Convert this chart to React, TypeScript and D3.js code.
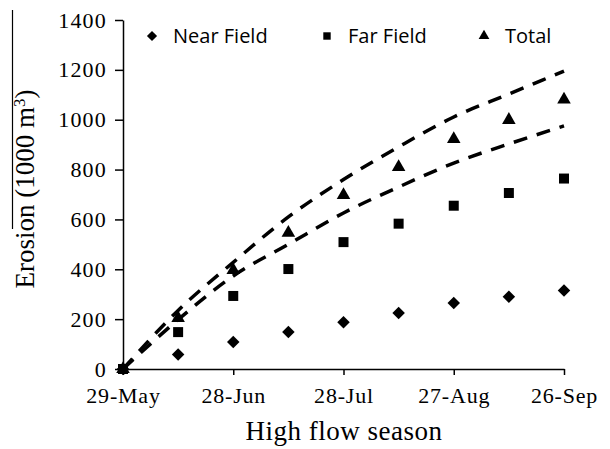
import * as d3 from 'd3'
import { useRef, useEffect } from 'react'

const dates = ['29-May', '13-Jun', '28-Jun', '13-Jul', '28-Jul', '12-Aug', '27-Aug', '11-Sep', '26-Sep']
const nearField = [0, 58, 108, 148, 188, 225, 265, 290, 315]
const farField = [0, 148, 293, 401, 509, 583, 655, 706, 764]
const total = [0, 204, 397, 546, 698, 810, 922, 999, 1081]
const upperLine = [0, 235, 428, 610, 760, 891, 1011, 1103, 1195]
const lowerLine = [0, 198, 373, 500, 626, 730, 826, 903, 975]
const xTicks = ['29-May', '28-Jun', '28-Jul', '27-Aug', '26-Sep']
const yTicks = [0, 200, 400, 600, 800, 1000, 1200, 1400]

const parse = d3.timeParse('%d-%b-%Y')
const toDate = (s: string) => parse(s + '-2013') as Date

const ErosionChart = () => {
  const ref = useRef<SVGSVGElement>(null)

  useEffect(() => {
    drawChart()
  }, [])

  const drawChart = () => {
    const svg = d3.select(ref.current)
    svg.selectAll('*').remove()

    const left = 123
    const right = 564
    const top = 20
    const bottom = 369

    const x = d3.scaleTime().domain([toDate('29-May'), toDate('26-Sep')]).range([left, right])
    const y = d3.scaleLinear().domain([0, 1400]).range([bottom, top])

    // stray edge line from the cropped source image
    svg.append('line')
      .attr('x1', 12.5).attr('x2', 12.5).attr('y1', 10).attr('y2', 229)
      .attr('stroke', '#000').attr('stroke-width', 1.2)

    // y axis
    const yAxis = svg.append('g')
      .attr('transform', 'translate(' + left + ',0)')
      .call(d3.axisLeft(y).tickValues(yTicks).tickFormat(d3.format('d')).tickSize(8).tickSizeOuter(0).tickPadding(8))
    yAxis.select('.domain').attr('stroke', '#000').attr('stroke-width', 1.5)
    yAxis.selectAll('.tick line').attr('stroke', '#000').attr('stroke-width', 1.5)
    yAxis.selectAll('.tick text')
      .attr('font-family', '"Liberation Serif", "Times New Roman", serif')
      .attr('font-size', 22)
      .attr('letter-spacing', 1.2)
      .attr('fill', '#000')

    // x axis
    const xAxis = svg.append('g')
      .attr('transform', 'translate(0,' + bottom + ')')
      .call(
        d3.axisBottom(x)
          .tickValues(xTicks.map(toDate))
          .tickFormat((d: any) => d3.timeFormat('%d-%b')(d))
          .tickSize(6)
          .tickSizeOuter(0)
          .tickPadding(12)
      )
    xAxis.select('.domain').attr('stroke', '#000').attr('stroke-width', 1.5)
    xAxis.selectAll('.tick line').attr('stroke', '#000').attr('stroke-width', 1.5)
    xAxis.selectAll('.tick text')
      .attr('font-family', '"Liberation Serif", "Times New Roman", serif')
      .attr('font-size', 22)
      .attr('letter-spacing', 0.8)
      .attr('fill', '#000')

    // axis titles
    svg.append('text')
      .attr('x', 344).attr('y', 440)
      .attr('text-anchor', 'middle')
      .attr('font-family', '"Liberation Serif", "Times New Roman", serif')
      .attr('font-size', 27)
      .attr('letter-spacing', 0.5)
      .text('High flow season')

    const yt = svg.append('text')
      .attr('transform', 'translate(34,189) rotate(-90)')
      .attr('text-anchor', 'middle')
      .attr('font-family', '"Liberation Serif", "Times New Roman", serif')
      .attr('font-size', 27)
    yt.append('tspan').text('Erosion (1000 m')
    yt.append('tspan').attr('baseline-shift', 'super').attr('font-size', 17).text('3')
    yt.append('tspan').text(')')

    // dashed lines
    const line = d3.line<number>()
      .x((d, i) => x(toDate(dates[i])))
      .y((d) => y(d))
      .curve(d3.curveMonotoneX)

    ;[upperLine, lowerLine].forEach((vals) => {
      svg.append('path')
        .attr('d', line(vals))
        .attr('fill', 'none')
        .attr('stroke', '#000')
        .attr('stroke-width', 3.5)
        .attr('stroke-dasharray', '14 10')
    })

    // diamonds are squares turned 45 degrees, like the spreadsheet marker
    const series = [
      { key: 'Near Field', values: nearField, symbol: d3.symbolSquare, rot: 45, size: 78, legendSize: 52 },
      { key: 'Far Field', values: farField, symbol: d3.symbolSquare, rot: 0, size: 100, legendSize: 55 },
      { key: 'Total', values: total, symbol: d3.symbolTriangle, rot: 0, size: 80, legendSize: 50 }
    ]

    series.forEach((s) => {
      svg.append('g')
        .selectAll('path')
        .data(s.values)
        .enter()
        .append('path')
        .attr('transform', (d, i) => 'translate(' + x(toDate(dates[i])) + ',' + y(d) + ') rotate(' + s.rot + ')')
        .attr('d', d3.symbol().type(s.symbol).size(s.size)())
        .attr('fill', '#000')
    })

    // legend
    const legendX = [152, 327, 484]
    const legend = svg.append('g')
    series.forEach((s, i) => {
      legend.append('path')
        .attr('transform', 'translate(' + legendX[i] + ',36) rotate(' + s.rot + ')')
        .attr('d', d3.symbol().type(s.symbol).size(s.legendSize)())
        .attr('fill', '#000')
      legend.append('text')
        .attr('x', legendX[i] + 21)
        .attr('y', 43)
        .attr('font-family', '"Open Sans", sans-serif')
        .attr('font-size', 20)
        .attr('fill', '#000')
        .text(s.key)
    })
  }

  return (
    <svg
      ref={ref}
      width={610}
      height={449}
      style={{ position: 'absolute', left: 0, top: 0, background: '#fff' }}
    ></svg>
  )
}

export default function App() {
  return <ErosionChart />
}
